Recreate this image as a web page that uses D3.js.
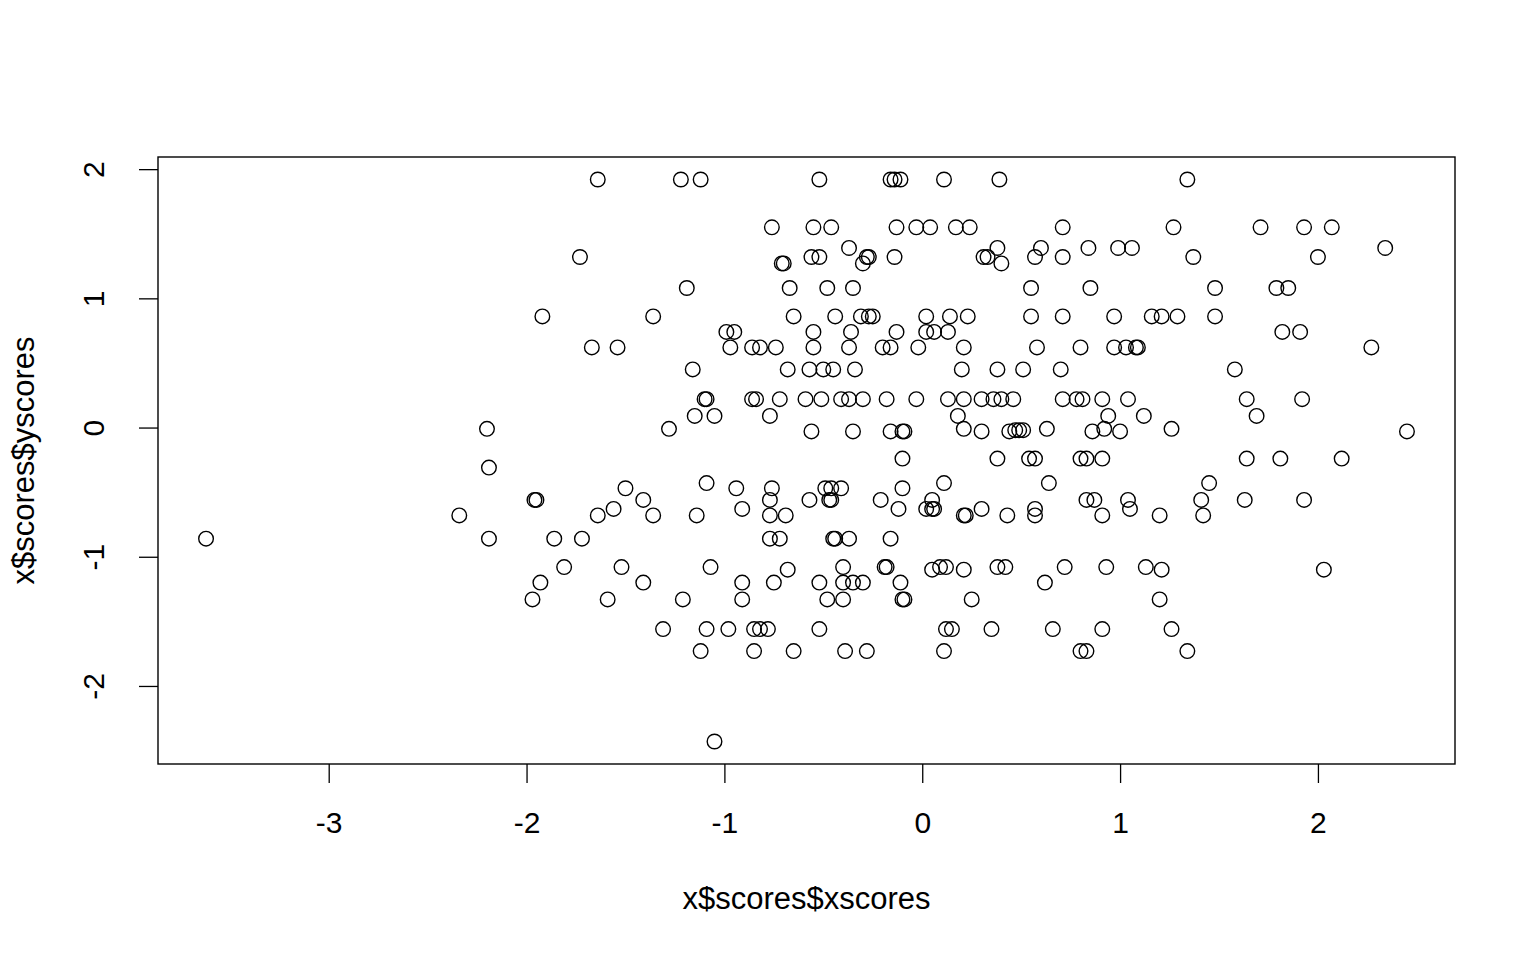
<!DOCTYPE html>
<html>
<head>
<meta charset="utf-8">
<script src="https://cdn.jsdelivr.net/npm/d3@7"></script>
<style>
  body { margin: 0; background: #fff; }
  svg text { font-family: "Liberation Sans", Arial, Helvetica, sans-serif; fill: #000; }
</style>
</head>
<body>
<svg id="scatter_svg"></svg>
<script>
// scores, one line per horizontal band of points
const xscores = [
  -1.64, -1.22, -1.12, -0.52, -0.16, -0.14, -0.11, 0.11, 0.39, 1.34,
  -0.76, -0.55, -0.46, -0.13, -0.03, 0.04, 0.17, 0.24, 0.71, 1.27, 1.71, 1.93, 2.07,
  -0.37, 0.38, 0.60, 0.84, 0.99, 1.06, 2.34,
  -1.73, -0.56, -0.52, -0.28, -0.27, -0.14, 0.31, 0.33, 0.57, 0.71, 1.37, 2.00,
  -0.71, -0.70, -0.30, 0.40,
  -1.19, -0.67, -0.48, -0.35, 0.55, 0.85, 1.48, 1.79, 1.85,
  -1.92, -1.36, -0.65, -0.44, -0.31, -0.27, -0.25, 0.02, 0.14, 0.23, 0.55, 0.71, 0.97, 1.16, 1.21, 1.29, 1.48,
  -0.99, -0.95, -0.55, -0.36, -0.13, 0.02, 0.06, 0.13, 1.82, 1.91,
  -1.67, -1.54, -0.97, -0.86, -0.82, -0.74, -0.55, -0.37, -0.20, -0.16, -0.02, 0.21, 0.58, 0.80, 0.97, 1.03, 1.08, 1.09, 2.27,
  -1.16, -0.68, -0.57, -0.50, -0.45, -0.34, 0.20, 0.38, 0.51, 0.70, 1.58,
  -1.10, -1.09, -0.86, -0.84, -0.72, -0.59, -0.51, -0.41, -0.37, -0.30, -0.18, -0.03, 0.13, 0.21, 0.30, 0.36, 0.40, 0.46, 0.71, 0.78, 0.81, 0.91, 1.04, 1.64, 1.92,
  -1.15, -1.05, -0.77, 0.18, 0.94, 1.12, 1.69,
  -2.20, -1.28, -0.56, -0.35, -0.16, -0.10, -0.09, 0.21, 0.30, 0.44, 0.47, 0.49, 0.51, 0.63, 0.86, 0.92, 1.00, 1.26, 2.45,
  -0.10, 0.38, 0.54, 0.57, 0.80, 0.83, 0.91, 1.64, 1.81, 2.12,
  -2.19,
  -1.09, 0.11, 0.64, 1.45,
  -1.50, -0.94, -0.76, -0.49, -0.46, -0.41, -0.10,
  -1.96, -1.95, -1.41, -0.77, -0.57, -0.47, -0.46, -0.21, 0.05, 0.83, 0.87, 1.04, 1.41, 1.63, 1.93,
  -1.56, -0.91, -0.12, 0.02, 0.05, 0.06, 0.30, 0.57, 1.05,
  -2.34, -1.64, -1.36, -1.14, -0.77, -0.69, 0.21, 0.22, 0.43, 0.57, 0.91, 1.20, 1.42,
  -3.62, -2.19, -1.86, -1.72, -0.77, -0.72, -0.45, -0.44, -0.37, -0.16,
  -1.81, -1.52, -1.07, -0.68, -0.40, -0.19, -0.18, 0.05, 0.09, 0.12, 0.21, 0.38, 0.42, 0.72, 0.93, 1.13, 1.21, 2.03,
  -1.93, -1.41, -0.91, -0.75, -0.52, -0.40, -0.35, -0.30, -0.11, 0.62,
  -1.97, -1.59, -1.21, -0.91, -0.48, -0.40, -0.10, -0.09, 0.25, 1.20,
  -1.31, -1.09, -0.98, -0.85, -0.82, -0.78, -0.52, 0.12, 0.15, 0.35, 0.66, 0.91, 1.26,
  -1.12, -0.85, -0.65, -0.39, -0.28, 0.11, 0.80, 0.83, 1.34,
  -1.05
];

const yscores = [
  1.92, 1.92, 1.92, 1.92, 1.92, 1.92, 1.92, 1.92, 1.92, 1.92,
  1.55, 1.55, 1.55, 1.55, 1.55, 1.55, 1.55, 1.55, 1.55, 1.55, 1.55, 1.55, 1.55,
  1.39, 1.39, 1.39, 1.39, 1.39, 1.39, 1.39,
  1.32, 1.32, 1.32, 1.32, 1.32, 1.32, 1.32, 1.32, 1.32, 1.32, 1.32, 1.32,
  1.27, 1.27, 1.27, 1.27,
  1.08, 1.08, 1.08, 1.08, 1.08, 1.08, 1.08, 1.08, 1.08,
  0.86, 0.86, 0.86, 0.86, 0.86, 0.86, 0.86, 0.86, 0.86, 0.86, 0.86, 0.86, 0.86, 0.86, 0.86, 0.86, 0.86,
  0.74, 0.74, 0.74, 0.74, 0.74, 0.74, 0.74, 0.74, 0.74, 0.74,
  0.62, 0.62, 0.62, 0.62, 0.62, 0.62, 0.62, 0.62, 0.62, 0.62, 0.62, 0.62, 0.62, 0.62, 0.62, 0.62, 0.62, 0.62, 0.62,
  0.45, 0.45, 0.45, 0.45, 0.45, 0.45, 0.45, 0.45, 0.45, 0.45, 0.45,
  0.22, 0.22, 0.22, 0.22, 0.22, 0.22, 0.22, 0.22, 0.22, 0.22, 0.22, 0.22, 0.22, 0.22, 0.22, 0.22, 0.22, 0.22, 0.22, 0.22, 0.22, 0.22, 0.22, 0.22, 0.22,
  0.09, 0.09, 0.09, 0.09, 0.09, 0.09, 0.09,
  -0.01, -0.01, -0.03, -0.03, -0.03, -0.03, -0.03, -0.01, -0.03, -0.03, -0.02, -0.02, -0.02, -0.01, -0.03, -0.01, -0.03, -0.01, -0.03,
  -0.24, -0.24, -0.24, -0.24, -0.24, -0.24, -0.24, -0.24, -0.24, -0.24,
  -0.31,
  -0.43, -0.43, -0.43, -0.43,
  -0.47, -0.47, -0.47, -0.47, -0.47, -0.47, -0.47,
  -0.56, -0.56, -0.56, -0.56, -0.56, -0.56, -0.56, -0.56, -0.56, -0.56, -0.56, -0.56, -0.56, -0.56, -0.56,
  -0.63, -0.63, -0.63, -0.63, -0.63, -0.63, -0.63, -0.63, -0.63,
  -0.68, -0.68, -0.68, -0.68, -0.68, -0.68, -0.68, -0.68, -0.68, -0.68, -0.68, -0.68, -0.68,
  -0.86, -0.86, -0.86, -0.86, -0.86, -0.86, -0.86, -0.86, -0.86, -0.86,
  -1.08, -1.08, -1.08, -1.10, -1.08, -1.08, -1.08, -1.10, -1.08, -1.08, -1.10, -1.08, -1.08, -1.08, -1.08, -1.08, -1.10, -1.10,
  -1.20, -1.20, -1.20, -1.20, -1.20, -1.20, -1.20, -1.20, -1.20, -1.20,
  -1.33, -1.33, -1.33, -1.33, -1.33, -1.33, -1.33, -1.33, -1.33, -1.33,
  -1.56, -1.56, -1.56, -1.56, -1.56, -1.56, -1.56, -1.56, -1.56, -1.56, -1.56, -1.56, -1.56,
  -1.73, -1.73, -1.73, -1.73, -1.73, -1.73, -1.73, -1.73, -1.73,
  -2.43
];

const xTicks = [-3, -2, -1, 0, 1, 2];
const yTicks = [-2, -1, 0, 1, 2];
const xLabel = "x$scores$xscores";
const yLabel = "x$scores$yscores";

const width = 1536, height = 960;
const margin = { top: 157, right: 81, bottom: 196, left: 158 };
const innerWidth = width - margin.left - margin.right;
const innerHeight = height - margin.top - margin.bottom;
const fontStack = "'Liberation Sans', Arial, Helvetica, sans-serif";

const points = xscores.map((x, i) => ({ x: x, y: yscores[i] }));

// R style range: data extent widened by 4% on each side
function padExtent(vals) {
    const [lo, hi] = d3.extent(vals);
    const pad = (hi - lo) * 0.04;
    return [lo - pad, hi + pad];
}

const xScale = d3.scaleLinear().domain(padExtent(xscores)).range([0, innerWidth]);
const yScale = d3.scaleLinear().domain(padExtent(yscores)).range([innerHeight, 0]);
const tickText = d => d < 0 ? "-" + Math.abs(d) : String(d);

const svg = d3.select("#scatter_svg")
    .attr("width", width)
    .attr("height", height);

const g = svg.append("g")
    .attr("transform", `translate(${margin.left}, ${margin.top})`);

// points (open circles, pch 1)
g.selectAll("circle")
    .data(points)
    .enter().append("circle")
    .attr("cx", d => xScale(d.x))
    .attr("cy", d => yScale(d.y))
    .attr("r", 7.3)
    .attr("fill", "none")
    .attr("stroke", "#000")
    .attr("stroke-width", 1.4);

// bottom axis
const xAxisG = g.append("g")
    .attr("transform", `translate(0, ${innerHeight})`)
    .call(d3.axisBottom(xScale).tickValues(xTicks).tickFormat(tickText).tickSize(19).tickSizeOuter(0))
    .attr("font-size", 30)
    .attr("font-family", fontStack);
xAxisG.select(".domain").remove();
xAxisG.selectAll("line").attr("stroke", "#000").attr("stroke-width", 1.3);
xAxisG.selectAll("text")
    .attr("y", 69)
    .attr("dy", 0);

// left axis, labels turned parallel to the axis
const yAxisG = g.append("g")
    .call(d3.axisLeft(yScale).tickValues(yTicks).tickFormat(tickText).tickSize(19).tickSizeOuter(0))
    .attr("font-size", 30)
    .attr("font-family", fontStack)
    .attr("text-anchor", "middle");
yAxisG.select(".domain").remove();
yAxisG.selectAll("line").attr("stroke", "#000").attr("stroke-width", 1.3);
yAxisG.selectAll("text")
    .attr("x", 0)
    .attr("y", 0)
    .attr("dy", 0)
    .attr("transform", "translate(-54, 0) rotate(-90)");

// frame round the plot region
g.append("rect")
    .attr("x", 0)
    .attr("y", 0)
    .attr("width", innerWidth)
    .attr("height", innerHeight)
    .attr("fill", "none")
    .attr("stroke", "#000")
    .attr("stroke-width", 1.4);

// axis titles
svg.append("text")
    .attr("x", margin.left + innerWidth / 2)
    .attr("y", 909)
    .attr("text-anchor", "middle")
    .attr("font-size", 31)
    .text(xLabel);

svg.append("text")
    .attr("transform", `translate(34, ${margin.top + innerHeight / 2}) rotate(-90)`)
    .attr("text-anchor", "middle")
    .attr("font-size", 31)
    .text(yLabel);
</script>
</body>
</html>
